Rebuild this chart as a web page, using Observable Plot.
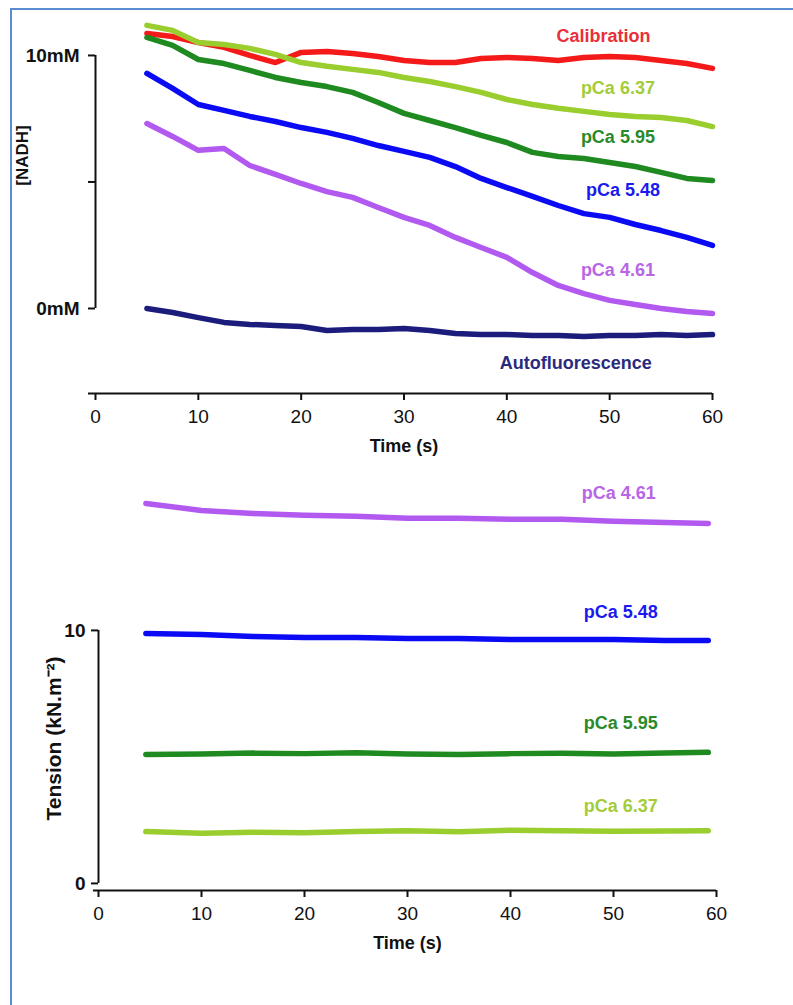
<!DOCTYPE html>
<html>
<head>
<meta charset="utf-8">
<script src="https://cdn.jsdelivr.net/npm/d3@7"></script>
<script src="https://cdn.jsdelivr.net/npm/@observablehq/plot@0.6"></script>
<style>
  html, body { margin: 0; padding: 0; background: #fff; }
  #page { position: relative; width: 793px; height: 1005px; overflow: hidden; background: #fff; }
  #border { position: absolute; left: 10px; top: 8px; width: 900px; height: 1100px;
            border-left: 2px solid #5b8bd0; border-top: 2px solid #5b8bd0; }
  #top { position: absolute; left: 0; top: 0; }
  #bottom { position: absolute; left: 0; top: 470px; }
</style>
</head>
<body>
<div id="page">
  <div id="border"></div>
  <div id="top"></div>
  <div id="bottom"></div>
</div>
<script>
// ---------- Data: NADH panel ----------
const time = [5, 7.5, 10, 12.5, 15, 17.5, 20, 22.5, 25, 27.5, 30, 32.5, 35, 37.5, 40, 42.5, 45, 47.5, 50, 52.5, 55, 57.5, 60];
const calibration = [10.87, 10.75, 10.51, 10.32, 10.0, 9.72, 10.12, 10.16, 10.08, 9.96, 9.8, 9.72, 9.72, 9.88, 9.92, 9.88, 9.8, 9.92, 9.96, 9.92, 9.8, 9.68, 9.49];
const nadh637 = [11.19, 10.99, 10.51, 10.43, 10.28, 10.04, 9.72, 9.57, 9.45, 9.33, 9.13, 8.97, 8.77, 8.54, 8.26, 8.06, 7.91, 7.79, 7.67, 7.59, 7.55, 7.43, 7.19];
const nadh595 = [10.71, 10.40, 9.84, 9.68, 9.41, 9.13, 8.93, 8.77, 8.54, 8.14, 7.71, 7.43, 7.15, 6.84, 6.56, 6.17, 6.01, 5.93, 5.77, 5.61, 5.38, 5.14, 5.06];
const nadh548 = [9.29, 8.70, 8.06, 7.83, 7.59, 7.39, 7.15, 6.96, 6.72, 6.44, 6.21, 5.97, 5.61, 5.14, 4.78, 4.43, 4.07, 3.75, 3.60, 3.32, 3.08, 2.81, 2.49];
const nadh461 = [7.31, 6.80, 6.25, 6.32, 5.65, 5.30, 4.94, 4.62, 4.39, 3.99, 3.60, 3.28, 2.81, 2.41, 2.02, 1.42, 0.91, 0.59, 0.32, 0.16, 0.0, -0.12, -0.20];
const autofluorescence = [0.0, -0.16, -0.36, -0.55, -0.63, -0.67, -0.71, -0.87, -0.83, -0.83, -0.79, -0.87, -0.99, -1.03, -1.03, -1.07, -1.07, -1.11, -1.07, -1.07, -1.03, -1.07, -1.03];

// ---------- Data: Tension panel ----------
const tensionTime = [4.6, 10, 15, 20, 25, 30, 35, 40, 45, 50, 55, 59.2];
const tension461 = [15.02, 14.74, 14.62, 14.55, 14.51, 14.43, 14.43, 14.39, 14.39, 14.31, 14.27, 14.23];
const tension548 = [9.88, 9.84, 9.76, 9.72, 9.72, 9.68, 9.68, 9.64, 9.64, 9.64, 9.60, 9.60];
const tension595 = [5.10, 5.12, 5.15, 5.13, 5.16, 5.12, 5.10, 5.13, 5.14, 5.12, 5.15, 5.18];
const tension637 = [2.05, 1.98, 2.02, 2.00, 2.05, 2.08, 2.04, 2.10, 2.08, 2.06, 2.07, 2.08];

// ---------- Ticks and labels ----------
const xTicks = [0, 10, 20, 30, 40, 50, 60];
const nadhTicks = [0, 5, 10];
const nadhTickLabels = ["0mM", "", "10mM"];
const tensionTicks = [0, 10];
const topLabels = ["Calibration", "pCa 6.37", "pCa 5.95", "pCa 5.48", "pCa 4.61", "Autofluorescence"];
const topLabelT = [49.4, 50.8, 50.8, 51.3, 50.8, 46.7];
const topLabelV = [10.75, 8.70, 6.76, 4.66, 1.50, -2.17];
const bottomLabels = ["pCa 4.61", "pCa 5.48", "pCa 5.95", "pCa 6.37"];
const bottomLabelT = [50.5, 50.7, 50.7, 50.7];
const bottomLabelV = [15.42, 10.71, 6.32, 3.04];

const colors = {
  "Calibration": "#f41a1a",
  "pCa 6.37": "#9acd2e",
  "pCa 5.95": "#1f8a1f",
  "pCa 5.48": "#0a0af5",
  "pCa 4.61": "#b259f0",
  "Autofluorescence": "#1c1c7c"
};
const labelColors = {
  "Calibration": "#e8303a",
  "pCa 6.37": "#a3cc3a",
  "pCa 5.95": "#2a8a2a",
  "pCa 5.48": "#1a1af0",
  "pCa 4.61": "#b865e6",
  "Autofluorescence": "#2a2a7e"
};

const font = "'Liberation Sans', Arial, sans-serif";

function rows(ts, vs) { return ts.map((t, i) => ({t, v: vs[i]})); }

// ---------- Top panel ----------
const topSeries = [
  ["pCa 5.48", nadh548], ["pCa 4.61", nadh461], ["Autofluorescence", autofluorescence],
  ["Calibration", calibration], ["pCa 5.95", nadh595], ["pCa 6.37", nadh637]
];
const topDomain = [-3.36, 11.5];
const topPlot = Plot.plot({
  width: 793, height: 470,
  marginLeft: 95, marginRight: 81, marginTop: 17, marginBottom: 77,
  x: {domain: [0, 60]},
  y: {domain: topDomain},
  style: {fontFamily: font, fontSize: "18px", color: "#111", background: "transparent"},
  marks: [
    ...topSeries.map(([name, vals]) => Plot.line(rows(time, vals), {x: "t", y: "v", stroke: colors[name], strokeWidth: 5.5, strokeLinejoin: "round"})),
    Plot.ruleX([0], {y1: nadhTicks[0], y2: nadhTicks[nadhTicks.length - 1], stroke: "#111", strokeWidth: 2}),
    Plot.ruleY([topDomain[0]], {x1: -0.68, x2: 60, stroke: "#111", strokeWidth: 2}),
    Plot.axisY({ticks: nadhTicks, tickFormat: d => nadhTickLabels[nadhTicks.indexOf(d)], tickSize: 7, tickPadding: 9, strokeWidth: 2, stroke: "#111", fontSize: 19, fontWeight: "bold", label: null}),
    Plot.axisX({ticks: xTicks, tickSize: 7, tickPadding: 9, strokeWidth: 2, stroke: "#111", fontSize: 19, label: null}),
    Plot.text(["Time (s)"], {frameAnchor: "bottom", dy: 58, fontWeight: "bold", fontSize: 18, fill: "#111"}),
    Plot.text(["[NADH]"], {frameAnchor: "left", textAnchor: "middle", dx: -73, dy: -50, rotate: -90, fontWeight: "bold", fontSize: 17, fill: "#111"}),
    Plot.text(topLabels, {x: (d, i) => topLabelT[i], y: (d, i) => topLabelV[i], text: d => d, fill: d => labelColors[d], fontWeight: "bold", fontSize: 18})
  ]
});
document.getElementById("top").append(topPlot);

// ---------- Bottom panel ----------
const bottomSeries = [
  ["pCa 4.61", tension461], ["pCa 5.48", tension548], ["pCa 5.95", tension595], ["pCa 6.37", tension637]
];
const bottomDomain = [-0.28, 15.53];
const bottomPlot = Plot.plot({
  width: 793, height: 535,
  marginLeft: 98, marginRight: 77, marginTop: 20, marginBottom: 115,
  x: {domain: [0, 60]},
  y: {domain: bottomDomain},
  style: {fontFamily: font, fontSize: "18px", color: "#111", background: "transparent"},
  marks: [
    ...bottomSeries.map(([name, vals]) => Plot.line(rows(tensionTime, vals), {x: "t", y: "v", stroke: colors[name], strokeWidth: 5.5, strokeLinejoin: "round"})),
    Plot.ruleX([0], {y1: tensionTicks[0], y2: tensionTicks[tensionTicks.length - 1], stroke: "#111", strokeWidth: 2}),
    Plot.ruleY([bottomDomain[0]], {x1: -0.49, x2: 60, stroke: "#111", strokeWidth: 2}),
    Plot.axisY({ticks: tensionTicks, tickSize: 7, tickPadding: 6, strokeWidth: 2, stroke: "#111", fontSize: 19, fontWeight: "bold", label: null}),
    Plot.axisX({ticks: xTicks, tickSize: 7, tickPadding: 9, strokeWidth: 2, stroke: "#111", fontSize: 19, label: null}),
    Plot.text(["Time (s)"], {frameAnchor: "bottom", dy: 58, fontWeight: "bold", fontSize: 18, fill: "#111"}),
    Plot.text(["Tension (kN.m\u207B\u00B2)"], {frameAnchor: "left", textAnchor: "middle", dx: -44, dy: 48, rotate: -90, fontWeight: "bold", fontSize: 21, fill: "#111"}),
    Plot.text(bottomLabels, {x: (d, i) => bottomLabelT[i], y: (d, i) => bottomLabelV[i], text: d => d, fill: d => labelColors[d], fontWeight: "bold", fontSize: 18})
  ]
});
document.getElementById("bottom").append(bottomPlot);
</script>
</body>
</html>
